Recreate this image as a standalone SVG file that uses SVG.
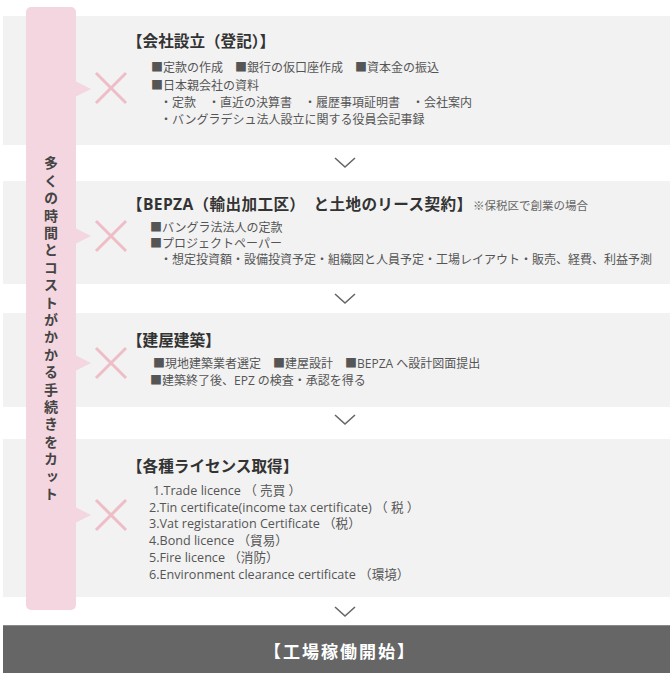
<svg xmlns="http://www.w3.org/2000/svg" width="670" height="680" viewBox="0 0 670 680">
<style>
.panel{fill:#f2f2f2}
.ptr{fill:#f3d6df}
.x{stroke:#eebdc8;stroke-width:3;fill:none}
.chev{stroke:#666;stroke-width:1.6;fill:none}
.t{font-family:"Open Sans","Noto Sans CJK JP",sans-serif;font-size:15.6px;font-weight:bold;fill:#333}
.b{font-family:"Open Sans","Noto Sans CJK JP",sans-serif;font-size:12px;fill:#555}
.l{font-family:"Open Sans","Noto Sans CJK JP",sans-serif;font-size:12.6px;fill:#555}
.s{font-family:"Open Sans","Noto Sans CJK JP",sans-serif;font-size:11.5px;fill:#666}
.v{font-family:"Noto Sans CJK JP",sans-serif;font-size:14px;font-weight:bold;fill:#444}
</style>
<rect width="670" height="680" fill="#fff"/>
<g id="step1">
<rect class="panel" x="3" y="16" width="667" height="129"/>
<text class="t" x="127" y="47">【会社設立（登記）】</text>
<text class="b" x="151" y="72">■定款の作成　■銀行の仮口座作成　■資本金の振込</text>
<text class="b" x="151" y="90">■日本親会社の資料</text>
<text class="b" x="160" y="107">・定款　・直近の決算書　・履歴事項証明書　・会社案内</text>
<text class="b" x="160" y="124">・バングラデシュ法人設立に関する役員会記事録</text>
</g>
<g id="step2">
<rect class="panel" x="3" y="181" width="667" height="103"/>
<text class="t" x="127" y="210" textLength="345" lengthAdjust="spacing">【BEPZA（輸出加工区）　と土地のリース契約】</text>
<text class="s" x="473" y="210">※保税区で創業の場合</text>
<text class="b" x="150" y="232">■バングラ法法人の定款</text>
<text class="b" x="150" y="248">■プロジェクトペーパー</text>
<text class="b" x="160" y="264">・想定投資額・設備投資予定・組織図と人員予定・工場レイアウト・販売、経費、利益予測</text>
</g>
<g id="step3">
<rect class="panel" x="3" y="313" width="667" height="94"/>
<text class="t" x="127" y="346">【建屋建築】</text>
<text class="b" x="153" y="368">■現地建築業者選定　■建屋設計　■BEPZA へ設計図面提出</text>
<text class="b" x="150" y="385">■建築終了後、EPZ の検査・承認を得る</text>
</g>
<g id="step4">
<rect class="panel" x="3" y="439" width="667" height="158"/>
<text class="t" x="127" y="472">【各種ライセンス取得】</text>
<text class="l" x="153" y="495">1.Trade licence （ 売買 ）</text>
<text class="l" x="149" y="512">2.Tin certificate(income tax certificate) （ 税 ）</text>
<text class="l" x="149" y="528">3.Vat registaration Certificate （税）</text>
<text class="l" x="149" y="545">4.Bond licence （貿易）</text>
<text class="l" x="149" y="562">5.Fire licence （消防）</text>
<text class="l" x="149" y="579">6.Environment clearance certificate （環境）</text>
</g>
<g id="sidebar">
<rect class="ptr" x="26" y="7" width="50" height="603" rx="5"/>
<path class="ptr" d="M75 81 L91 89 L75 97Z"/>
<path class="ptr" d="M75 228 L91 236 L75 244Z"/>
<path class="ptr" d="M75 355 L91 363 L75 371Z"/>
<path class="ptr" d="M75 507 L91 515 L75 523Z"/>
<text class="v" x="51" y="156" writing-mode="vertical-rl" letter-spacing="3.4">多くの時間とコストがかかる手続きをカット</text>
</g>
<g id="marks">
<path class="x" d="M96 73 L126 103 M126 73 L96 103"/>
<path class="x" d="M96 221 L126 251 M126 221 L96 251"/>
<path class="x" d="M96 348 L126 378 M126 348 L96 378"/>
<path class="x" d="M96 500 L126 530 M126 500 L96 530"/>
</g>
<g id="connectors">
<path class="chev" d="M335 158 L345 167 L355 158"/>
<path class="chev" d="M335 294 L345 303 L355 294"/>
<path class="chev" d="M335 415 L345 424 L355 415"/>
<path class="chev" d="M335 607 L345 616 L355 607"/>
</g>
<g id="goal">
<rect x="3" y="625" width="667" height="48" fill="#666"/>
<line x1="3" y1="625.5" x2="670" y2="625.5" stroke="#8a8a8a"/>
<text x="340" y="658" text-anchor="middle" font-family="Noto Sans CJK JP,sans-serif" font-size="17" font-weight="bold" fill="#fff" letter-spacing="2">【工場稼働開始】</text>
</g>
</svg>
